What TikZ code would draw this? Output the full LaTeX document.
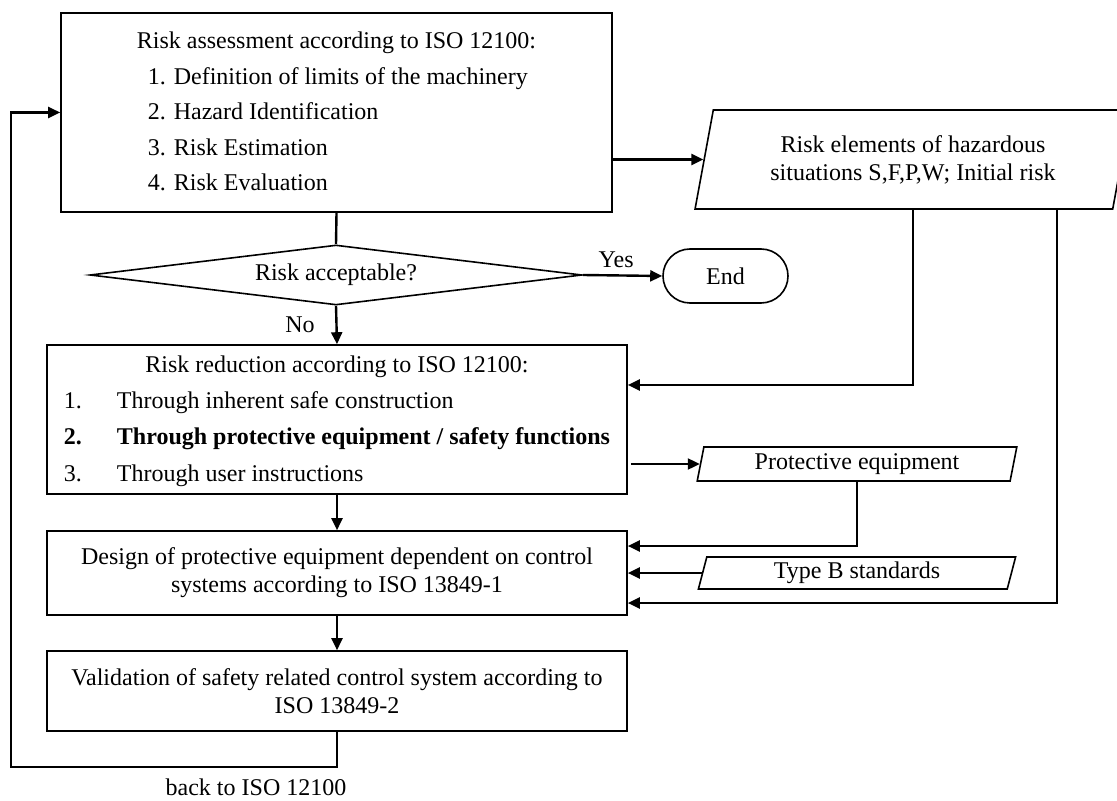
\documentclass[tikz,border=0pt]{standalone}
\usepackage{fontspec}
\setmainfont{Liberation Serif}
\usetikzlibrary{shapes.geometric,arrows.meta,positioning,calc}

\begin{document}
\begin{tikzpicture}[x=0.5pt, y=-0.5pt,
    font=\fontsize{12}{14}\selectfont,
    process/.style={draw, line width=0.8pt, align=center, inner sep=0pt, minimum width=290pt},
    io/.style={draw, line width=0.8pt, trapezium, trapezium stretches=true, trapezium left angle=78, trapezium right angle=102, inner sep=0pt, align=center},
    decision/.style={draw, line width=0.8pt, diamond, aspect=8, inner sep=0pt, minimum width=246pt, minimum height=30pt},
    terminal/.style={draw, line width=0.8pt, rounded corners=13.5pt, minimum width=62.5pt, minimum height=27pt},
    link/.style={line width=1.2pt},
    arrow/.style={link, -{Triangle[length=6pt,width=5.5pt]}}
]
    \useasboundingbox (0,0) rectangle (1117,801);

    \node[process, minimum width=275.5pt, minimum height=99.5pt] (assess) at (336.5,112.5) {\renewcommand{\arraystretch}{1.27}\begin{tabular}{@{}l@{}}
        \multicolumn{1}{@{}c@{}}{Risk assessment according to ISO 12100:}\\
        \hspace*{5.5pt}1. Definition of limits of the machinery\\
        \hspace*{5.5pt}2. Hazard Identification\\
        \hspace*{5.5pt}3. Risk Estimation\\
        \hspace*{5.5pt}4. Risk Evaluation
    \end{tabular}};
    \node[io, trapezium left angle=75, trapezium right angle=105, minimum width=218pt, minimum height=49.5pt] (elements) at (913,159.5) {Risk elements of hazardous\\situations S,F,P,W; Initial risk};
    \node[decision] (accept) at (336,275) {Risk acceptable?};
    \node[terminal] (stop) at (725.5,276) {End};
    \node[process, minimum height=74.5pt] (reduce) at (337,419.5) {\renewcommand{\arraystretch}{1.3}\begin{tabular}{@{}p{26.5pt}@{}l@{}}
        \multicolumn{2}{@{}c@{}}{Risk reduction according to ISO 12100:}\\
        1. & Through inherent safe construction\\
        \textbf{2.} & \textbf{Through protective equipment / safety functions}\\
        3. & Through user instructions
    \end{tabular}};
    \node[io, minimum width=160pt, minimum height=17pt] (equip) at (857,464) {Protective equipment};
    \node[process, minimum height=42pt] (design) at (337,573) {Design of protective equipment dependent on control\\systems according to ISO 13849-1};
    \node[io, minimum width=160pt, minimum height=16pt] (typeb) at (857,573) {Type B standards};
    \node[process, minimum height=40pt] (valid) at (337,691) {Validation of safety related control system according to\\ISO 13849-2};
    \coordinate (corner) at (11,767);
    \node (backlbl) at (256,787) {back to ISO 12100};

    \draw[link] (assess.south) -- (accept.north);
    \draw[arrow] (accept.east) -- node[pos=0.42, above] (yes) {Yes} (stop.west);
    \draw[arrow] (accept.south) -- node[left=7pt] (no) {No} (reduce.north);
    \draw[arrow] (assess.east |- elements.left side) -- (elements.left side);
    \draw[arrow] (elements.south) |- ([yshift=17.25pt]reduce.east);
    \draw[arrow] ([xshift=72pt]elements.south) |- ([yshift=-15pt]design.east);
    \draw[arrow, shorten <=1.5pt] (reduce.east |- equip.left side) -- (equip.left side);
    \draw[arrow] (equip.south) |- ([yshift=13.5pt]design.east);
    \draw[arrow] (typeb.left side) -- (design.east);
    \draw[arrow] (reduce) -- (design);
    \draw[arrow] (design) -- (valid);
    \draw[arrow] (valid.south) |- (corner) |- (assess.west);
\end{tikzpicture}
\end{document}
